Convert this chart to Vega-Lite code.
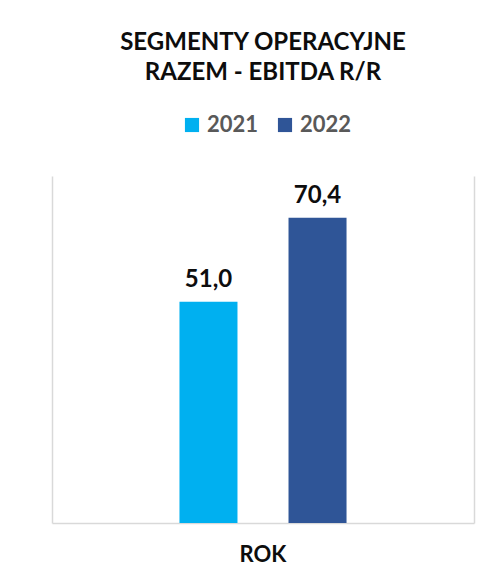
{
  "$schema": "https://vega.github.io/schema/vega-lite/v6.json",
  "width": 422,
  "height": 347,
  "autosize": {"type": "none"},
  "padding": {"left": 52, "top": 176, "right": 11, "bottom": 57},
  "background": "white",
  "title": {
    "text": ["SEGMENTY OPERACYJNE", "RAZEM - EBITDA R/R"],
    "font": "Lato",
    "fontSize": 24,
    "fontWeight": "bold",
    "color": "#0d0d0d",
    "anchor": "middle",
    "lineHeight": 30,
    "baseline": "top",
    "offset": 29
  },
  "data": {
    "values": [
      {"os": "ROK", "rok": "2021", "ebitda": 51.0},
      {"os": "ROK", "rok": "2022", "ebitda": 70.4}
    ]
  },
  "encoding": {
    "x": {
      "field": "os",
      "type": "nominal",
      "scale": {"paddingInner": 0, "paddingOuter": 0.763},
      "axis": {
        "title": null,
        "labels": true,
        "labelAngle": 0,
        "ticks": false,
        "domainColor": "#d9d9d9",
        "domainWidth": 1.5,
        "labelFont": "Lato",
        "labelFontSize": 22,
        "labelFontWeight": "bold",
        "labelColor": "#0d0d0d",
        "labelBaseline": "top",
        "labelPadding": 21
      }
    },
    "xOffset": {
      "field": "rok",
      "type": "nominal",
      "scale": {"paddingInner": 0.468, "paddingOuter": 0}
    },
    "y": {
      "field": "ebitda",
      "type": "quantitative",
      "scale": {"domain": [0, 80]}
    }
  },
  "layer": [
    {
      "mark": {"type": "bar"},
      "encoding": {
        "color": {
          "field": "rok",
          "type": "nominal",
          "scale": {"domain": ["2021", "2022"], "range": ["#00b0f0", "#2f5597"]},
          "legend": {
            "title": null,
            "orient": "none",
            "legendX": 129,
            "legendY": -62,
            "direction": "horizontal",
            "symbolType": "square",
            "symbolSize": 200,
            "symbolStrokeWidth": 0,
            "labelFont": "Lato",
            "labelFontSize": 22,
            "labelFontWeight": "bold",
            "labelColor": "#595959",
            "columnPadding": 15,
            "labelOffset": 4
          }
        }
      }
    },
    {
      "mark": {
        "type": "text",
        "baseline": "alphabetic",
        "dy": -15,
        "font": "Lato",
        "fontSize": 24,
        "fontWeight": "bold",
        "color": "#0d0d0d"
      },
      "encoding": {
        "text": {"field": "ebitda", "type": "quantitative", "format": ".1f"},
        "y": {
          "field": "ebitda",
          "type": "quantitative",
          "axis": {
            "orient": "right",
            "title": null,
            "labels": false,
            "ticks": false,
            "grid": false,
            "domainColor": "#d9d9d9",
            "domainWidth": 1.5
          }
        }
      }
    }
  ],
  "resolve": {"axis": {"y": "independent"}},
  "config": {
    "locale": {
      "number": {"decimal": ",", "thousands": " ", "grouping": [3], "currency": ["", " zł"]}
    },
    "view": {"stroke": null},
    "axisY": {
      "title": null,
      "labels": false,
      "ticks": false,
      "grid": false,
      "domainColor": "#d9d9d9",
      "domainWidth": 1.5
    }
  }
}
